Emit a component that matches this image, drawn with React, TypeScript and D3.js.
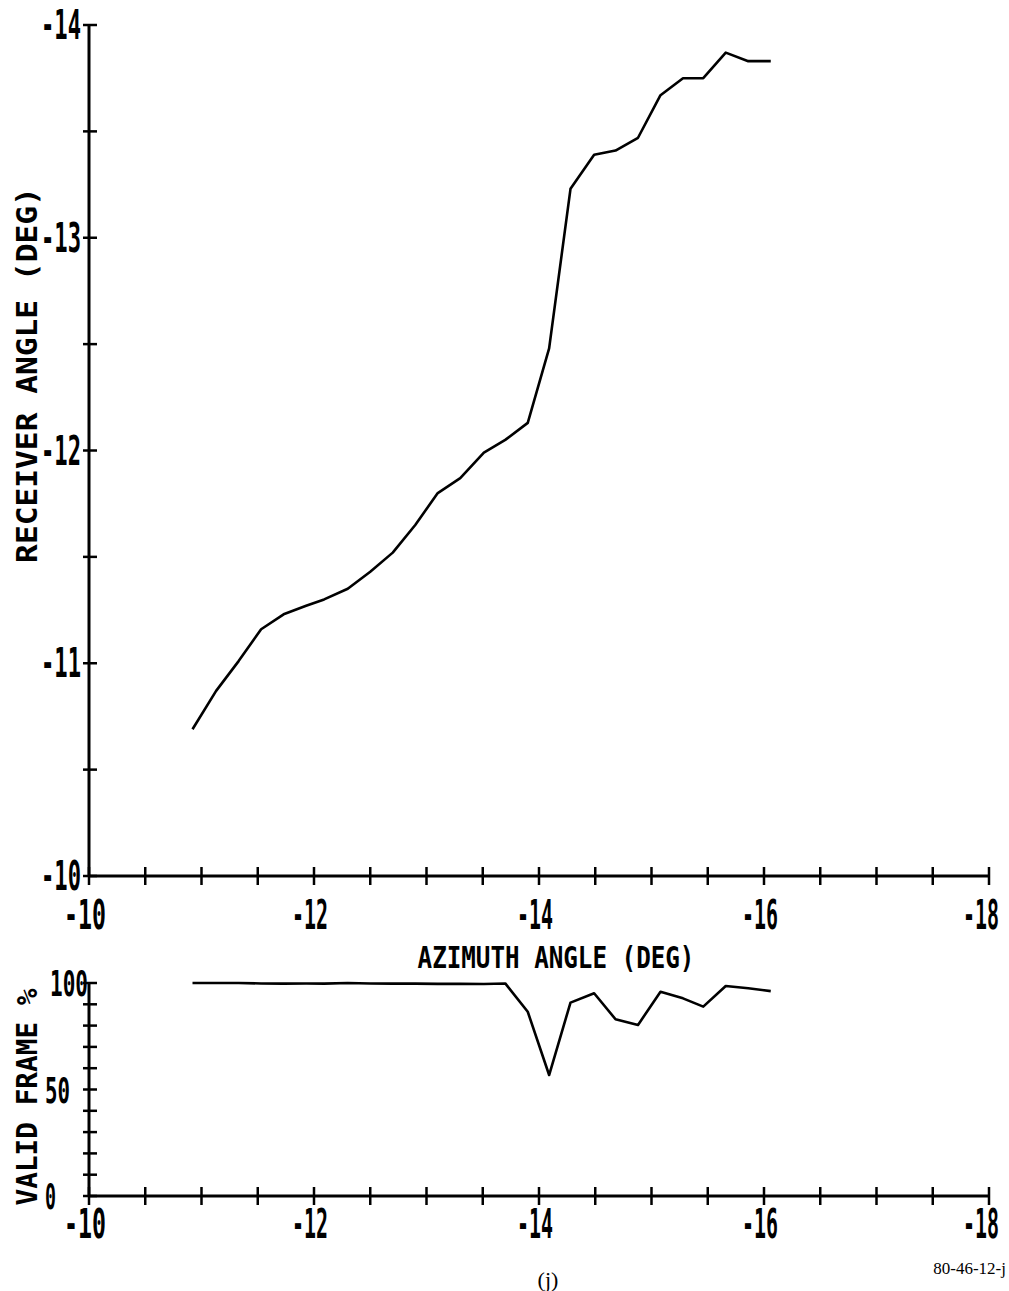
import React from "react";
import * as d3 from "d3";

// ---- data ----
const azimuth = [
  -10.92, -11.13, -11.33, -11.53, -11.73, -11.93, -12.09, -12.3, -12.5, -12.7,
  -12.9, -13.1, -13.3, -13.51, -13.7, -13.9, -14.09, -14.28, -14.49, -14.68,
  -14.88, -15.08, -15.28, -15.46, -15.66, -15.86, -16.06,
];
const receiverAngle = [
  -10.69, -10.87, -11.01, -11.16, -11.23, -11.27, -11.3, -11.35, -11.43, -11.52,
  -11.65, -11.8, -11.87, -11.99, -12.05, -12.13, -12.48, -13.23, -13.39, -13.41,
  -13.47, -13.67, -13.75, -13.75, -13.87, -13.83, -13.83,
];
const validFrame = [
  100, 100, 100, 99.8, 99.7, 99.8, 99.7, 100, 99.8, 99.7, 99.7, 99.6, 99.6, 99.5,
  99.8, 86.5, 56.8, 90.8, 95.2, 83, 80.3, 95.9, 92.8, 88.9, 98.6, 97.5, 96.2,
];

const xMinorTicks = d3.range(0, 17).map((i) => -10 - i * 0.5);
const xLabelTicks = [-10, -12, -14, -16, -18];
const yMainTicks = d3.range(0, 9).map((i) => -10 - i * 0.5);
const yMainLabels = [-10, -11, -12, -13, -14];
const yBotTicks = d3.range(0, 11).map((i) => i * 10);
const yBotLabels = [0, 50, 100];

const W = 1009;
const H = 1291;
const plotFont = "DejaVu Sans Mono";
const ADV = 0.602; // DejaVu Sans Mono advance width per em

// Narrow plotter-style text: mono font squeezed horizontally to a target width
function PlotText(props: {
  x: number;
  y: number;
  text: string;
  width: number;
  size: number;
  anchor?: "start" | "middle" | "end";
  rotate?: number;
}) {
  const { x, y, text, width, size, anchor = "start", rotate = 0 } = props;
  const sx = width / (text.length * ADV * size);
  return (
    <text
      transform={`translate(${x},${y}) rotate(${rotate}) scale(${sx},1)`}
      textAnchor={anchor}
      fontFamily={plotFont}
      fontSize={size}
      fontWeight="bold"
      fill="#000"
    >
      {text}
    </text>
  );
}

export default function App() {
  const x = d3.scaleLinear().domain([-10, -18]).range([89, 989]);
  const yMain = d3.scaleLinear().domain([-10, -14]).range([876, 25]);
  const yBot = d3.scaleLinear().domain([0, 100]).range([1196, 983]);

  const mainLine = d3
    .line<number>()
    .x((_, i) => x(azimuth[i]))
    .y((d) => yMain(d))(receiverAngle) as string;
  const botLine = d3
    .line<number>()
    .x((_, i) => x(azimuth[i]))
    .y((d) => yBot(d))(validFrame) as string;

  const fmt = (v: number) => String(v);

  const xAxis = (y0: number, labelBase: number) => (
    <g>
      <line x1={x(-10)} x2={x(-18)} y1={y0} y2={y0} stroke="#000" strokeWidth={3} />
      {xMinorTicks.map((t) => (
        <line key={t} x1={x(t)} x2={x(t)} y1={y0 - 9} y2={y0 + 9} stroke="#000" strokeWidth={2.5} />
      ))}
      {xLabelTicks.map((t) => (
        <PlotText
          key={t}
          x={x(t) - (t === -18 ? 8 : 4)}
          y={labelBase}
          text={fmt(t)}
          anchor="middle"
          size={40}
          width={t === -10 ? 42 : 36}
        />
      ))}
    </g>
  );

  return (
    <svg
      width={W}
      height={H}
      viewBox={`0 0 ${W} ${H}`}
      style={{ position: "absolute", left: 0, top: 0, background: "#fff" }}
    >
      <rect width={W} height={H} fill="#fff" />

      {/* main chart */}
      <line x1={x(-10)} x2={x(-10)} y1={yMain(-10)} y2={yMain(-14)} stroke="#000" strokeWidth={3} />
      {yMainTicks.map((t) => (
        <line key={t} x1={x(-10) - 6} x2={x(-10) + 8} y1={yMain(t)} y2={yMain(t)} stroke="#000" strokeWidth={2.5} />
      ))}
      {yMainLabels.map((t) => (
        <PlotText key={t} x={41} y={yMain(t) + 14} text={fmt(t)} size={40} width={40} />
      ))}
      {xAxis(yMain(-10), 929)}
      <PlotText x={556} y={968} text="AZIMUTH ANGLE (DEG)" anchor="middle" size={31} width={277} />
      <PlotText x={37} y={375} rotate={-90} text="RECEIVER ANGLE (DEG)" anchor="middle" size={28} width={376} />
      <path d={mainLine} fill="none" stroke="#000" strokeWidth={2.6} strokeLinejoin="round" />

      {/* bottom chart */}
      <line x1={x(-10)} x2={x(-10)} y1={yBot(0)} y2={yBot(100)} stroke="#000" strokeWidth={3} />
      {yBotTicks.map((t) => (
        <line key={t} x1={x(-10) - 6} x2={x(-10) + 8} y1={yBot(t)} y2={yBot(t)} stroke="#000" strokeWidth={2.5} />
      ))}
      {yBotLabels.map((t) => (
        <PlotText
          key={t}
          x={t === 100 ? 50 : 45}
          y={yBot(t) + 13}
          text={fmt(t)}
          size={36}
          width={t === 100 ? 38 : t === 50 ? 25 : 11}
        />
      ))}
      {xAxis(yBot(0), 1238)}
      <PlotText x={37} y={1097} rotate={-90} text="VALID FRAME %" anchor="middle" size={28} width={217} />
      <path d={botLine} fill="none" stroke="#000" strokeWidth={2.6} strokeLinejoin="round" />

      {/* captions */}
      <text x={548} y={1287} textAnchor="middle" fontFamily="Liberation Serif" fontSize={22}>
        (j)
      </text>
      <text x={1006} y={1274} textAnchor="end" fontFamily="Liberation Serif" fontSize={17}>
        80-46-12-j
      </text>
    </svg>
  );
}
